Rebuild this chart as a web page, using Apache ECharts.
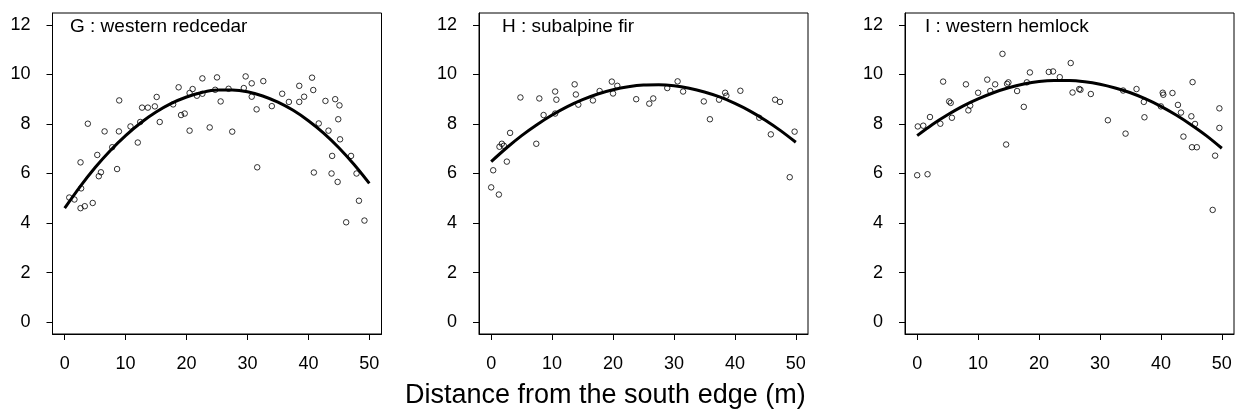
<!DOCTYPE html>
<html>
<head>
<meta charset="utf-8">
<script src="https://cdn.jsdelivr.net/npm/echarts@6/dist/echarts.min.js"></script>
<style>
html,body{margin:0;padding:0;background:#fff;}
#chart{width:1238px;height:415px;}
</style>
</head>
<body>
<div id="chart"></div>
<script>
// ---- tick labels ----
const xTicks = [0, 10, 20, 30, 40, 50];
const yTicks = [0, 2, 4, 6, 8, 10, 12];
const panelTitles = ['G : western redcedar', 'H : subalpine fir', 'I : western hemlock'];
const xAxisTitle = 'Distance from the south edge (m)';

// ---- G : western redcedar ----
const gX = [0.75,1.6,2.6,2.7,2.6,3.3,3.8,4.6,5.35,5.6,5.95,6.55,7.8,8.6,8.9,8.95,10.8,12.0,12.4,12.7,13.65,14.8,15.1,15.6,17.8,18.7,19.1,19.7,20.5,20.5,21.0,21.7,22.6,22.6,23.8,24.7,25.0,25.6,26.9,27.5,29.4,29.7,30.7,30.7,31.5,31.6,32.6,34.0,35.7,36.8,38.5,38.5,39.3,40.6,40.8,40.9,41.7,42.8,43.3,43.9,43.8,44.4,44.8,44.9,45.1,45.2,46.2,47.0,47.9,48.3,49.2];
const gY = [5.03,4.95,6.45,5.4,4.6,4.68,8.01,4.81,6.75,5.89,6.05,7.7,7.06,6.18,7.7,8.95,7.9,7.25,8.08,8.66,8.66,8.71,9.09,8.08,8.79,9.48,8.36,8.42,7.73,9.25,9.41,9.14,9.22,9.84,7.86,9.38,9.88,8.91,9.42,7.69,9.45,9.92,9.64,9.10,8.59,6.25,9.73,8.72,9.22,8.89,9.54,8.89,9.10,9.87,9.37,6.04,8.02,8.93,7.73,6.71,6.0,9.0,5.66,8.19,8.75,7.38,4.03,6.71,6.0,4.9,4.10];

// ---- H : subalpine fir ----
const hX = [0,0.33,1.26,1.36,1.75,2.08,2.57,3.1,4.8,7.4,7.9,8.6,10.5,10.7,10.5,13.7,13.9,14.3,16.7,17.8,19.8,20.0,20.7,23.8,25.95,26.6,28.9,30.6,31.5,34.9,35.9,37.4,38.4,38.6,40.9,44.0,45.9,46.6,47.4,49.0,49.8];
const hY = [5.44,6.13,5.15,7.08,7.2,7.12,6.48,7.64,9.07,7.2,9.03,8.36,9.31,8.98,8.42,9.6,9.19,8.78,8.95,9.33,9.71,9.23,9.54,9.0,8.82,9.03,9.45,9.72,9.31,8.91,8.19,8.98,9.26,9.14,9.34,8.25,7.58,8.98,8.89,5.85,7.69];

// ---- I : western hemlock ----
const iX = [0,0.1,1.0,1.7,2.1,3.8,4.26,5.25,5.5,5.7,8.0,8.4,8.7,10.0,11.5,12.0,12.8,14.0,14.6,14.75,14.97,16.4,17.5,18.0,18.5,21.6,22.3,23.4,25.2,25.5,26.6,26.8,28.5,31.3,33.8,34.2,36.0,37.2,37.3,40.0,40.3,40.4,41.9,42.8,43.3,43.7,45.0,45.2,45.6,45.1,45.9,48.5,48.9,49.6,49.6];
const iY = [5.93,7.9,7.93,5.97,8.28,8.01,9.71,8.91,8.85,8.25,9.6,8.55,8.74,9.26,9.79,9.33,9.6,10.83,7.17,9.62,9.68,9.33,8.69,9.68,10.08,10.1,10.12,9.89,10.46,9.27,9.41,9.38,9.21,8.15,9.35,7.61,9.41,8.89,8.27,8.71,9.26,9.18,9.25,8.77,8.46,7.49,8.31,9.69,8.0,7.06,7.06,4.53,6.72,8.63,7.84];

// ---- fitted curves ----
const fitX = [0, 2.5, 5, 7.5, 10, 12.5, 15, 17.5, 20, 22.5, 25, 27.5, 30, 32.5, 35, 37.5, 40, 42.5, 45, 47.5, 50];
const gFit = [4.60, 5.46, 6.24, 6.93, 7.53, 8.05, 8.48, 8.83, 9.09, 9.27, 9.37, 9.37, 9.30, 9.13, 8.88, 8.55, 8.13, 7.63, 7.04, 6.36, 5.60];
const hFit = [6.48, 7.03, 7.53, 7.97, 8.36, 8.70, 8.98, 9.21, 9.38, 9.50, 9.57, 9.58, 9.54, 9.44, 9.29, 9.09, 8.83, 8.52, 8.15, 7.73, 7.26];
const iFit = [7.53, 7.98, 8.37, 8.72, 9.01, 9.26, 9.46, 9.61, 9.71, 9.75, 9.75, 9.70, 9.60, 9.45, 9.26, 9.01, 8.71, 8.36, 7.96, 7.52, 7.02];

const FONT = "'Liberation Sans', Arial, Helvetica, sans-serif";
const panels = [
  {x: gX, y: gY, fit: gFit, left: 52.5},
  {x: hX, y: hY, fit: hFit, left: 479},
  {x: iX, y: iY, fit: iFit, left: 905}
];
const boxW = 329, boxTop = 13, boxH = 321;

const zip = (a, b) => a.map((v, k) => [v, b[k]]);

const grids = [], xAxes = [], yAxes = [], series = [], graphics = [];
panels.forEach((p, k) => {
  grids.push({left: p.left, top: boxTop, width: boxW, height: boxH, show: true,
    borderColor: '#000', borderWidth: 1, backgroundColor: 'transparent', containLabel: false});
  xAxes.push({gridIndex: k, type: 'value', min: -2, max: 52,
    axisLine: {show: true, onZero: false, lineStyle: {color: '#000', width: 1}},
    axisTick: {show: true, customValues: xTicks, length: 6, lineStyle: {color: '#000', width: 1}},
    axisLabel: {customValues: xTicks, margin: 21, fontSize: 18, color: '#000', fontFamily: FONT},
    splitLine: {show: false}});
  yAxes.push({gridIndex: k, type: 'value', min: -0.48, max: 12.48,
    axisLine: {show: true, onZero: false, lineStyle: {color: '#000', width: 1}},
    axisTick: {show: true, customValues: yTicks, length: 6, lineStyle: {color: '#000', width: 1}},
    axisLabel: {customValues: yTicks, margin: 22, fontSize: 18, color: '#000', fontFamily: FONT},
    splitLine: {show: false}});
  series.push({type: 'scatter', xAxisIndex: k, yAxisIndex: k, data: zip(p.x, p.y),
    symbol: 'circle', symbolSize: 5.5,
    itemStyle: {color: 'transparent', borderColor: '#000', borderWidth: 1},
    silent: true, z: 2});
  series.push({type: 'line', xAxisIndex: k, yAxisIndex: k, data: zip(fitX, p.fit),
    smooth: 0.3, showSymbol: false, lineStyle: {color: '#000', width: 3},
    silent: true, z: 3});
});

const titleLeft = [70, 502, 925];
panelTitles.forEach((t, k) => {
  graphics.push({type: 'text', left: titleLeft[k], top: 17,
    style: {text: t, font: '19px ' + FONT, fill: '#000'}});
});
graphics.push({type: 'text', left: 405, top: 382,
  style: {text: xAxisTitle, font: '27px ' + FONT, fill: '#000'}});

const chart = echarts.init(document.getElementById('chart'), null, {renderer: 'canvas'});
chart.setOption({
  animation: false,
  backgroundColor: '#fff',
  grid: grids,
  xAxis: xAxes,
  yAxis: yAxes,
  series: series,
  graphic: graphics
});
</script>
</body>
</html>
